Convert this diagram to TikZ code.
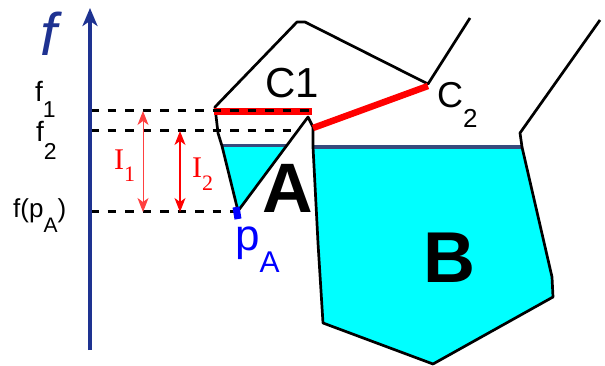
\documentclass[tikz,border=0pt]{standalone}
\usepackage{fontspec}
\setmainfont{Liberation Sans}
\newfontfamily\tnr{Liberation Serif}
\usetikzlibrary{arrows.meta}
\definecolor{axisblue}{RGB}{30,50,145}
\definecolor{slate}{RGB}{55,75,125}
\definecolor{cyanfill}{RGB}{0,255,255}
\newcommand\mysub[3]{\raisebox{-#2pt}{\fontsize{#1}{#1}\selectfont #3}}
\begin{document}
\begin{tikzpicture}[x=1pt,y=-1pt,
  lbl/.style={inner sep=0pt, anchor=base west},
  outline/.style={black, line width=2.7pt, line join=round},
  guide/.style={black, line width=3pt, dash pattern=on 8.5pt off 9pt},
  level/.style={red, line width=7pt},
  topedge/.style={slate, line width=3.2pt},
  interval/.style={red, line width=1pt, {Stealth[length=14pt,width=11pt,inset=4pt]}-{Stealth[length=14pt,width=11pt,inset=4pt]}},
]
\useasboundingbox (0,0) rectangle (605,366);
% coordinates
\coordinate (ax0) at (90,350);
\coordinate (axtop) at (90,8);
\coordinate (g1a) at (90,111);
\coordinate (g1b) at (312,111);
\coordinate (g2a) at (90,131);
\coordinate (g2b) at (295,131);
\coordinate (g3a) at (90,212);
\coordinate (g3b) at (236,212);
\coordinate (c1a) at (214,111.5);
\coordinate (c1b) at (312,111.5);
\coordinate (c2a) at (313,128);
\coordinate (c2b) at (428,86);
\coordinate (i1a) at (143,111);
\coordinate (i1b) at (143,212);
\coordinate (i2a) at (180,131);
\coordinate (i2b) at (180,212);
% fills
\fill[cyanfill] (222,146) -- (287,146) -- (238,211) -- cycle;
\fill[cyanfill] (313,147) -- (522,147) -- (552,277) -- (553,297) -- (433,364) -- (323,323) -- (318,243) -- (315,185) -- cycle;
\draw[topedge] (222,145.5) -- (287,145.5);
\draw[topedge] (314,147) -- (521,147);
% outline
\draw[outline] (600,20) -- (520,133) -- (522,147) -- (552,277) -- (553,297) -- (433,364) -- (323,323) -- (318,243) -- (315,185) -- (313,147) -- (313,127) -- (308,117) -- (238,211) -- (222,146) -- (218,133) -- (215,107) -- (297,22) -- (305,22) -- (428,84) -- (470,18);
% level sets
\draw[level] (c1a) -- (c1b);
\draw[level, line width=6.5pt] (c2a) -- (c2b);
% guides
\draw[guide] (g1a) -- (g1b);
\draw[guide] (g2a) -- (g2b);
\draw[guide] (g3a) -- (g3b);
% axis
\draw[axisblue, line width=4.3pt, -{Stealth[length=18pt,width=15pt,inset=5pt]}] (ax0) -- (axtop);
% intervals
\draw[interval, red!75] (i1a) -- (i1b);
\draw[interval, line width=1.3pt] (i2a) -- (i2b);
% point pA
\coordinate (pA) at (237,213);
\draw[blue, line width=7pt] (236,207) -- (238,219);
% labels
\node[lbl, font=\itshape\fontsize{60}{60}\selectfont, text=axisblue] (fbig) at (40,56) {f};
\node[lbl, font=\fontsize{28}{28}\selectfont] (f1) at (35,102) {f\mysub{23}{16}{1}};
\node[lbl, font=\fontsize{28}{28}\selectfont] (f2) at (36,142) {f\mysub{23}{18}{2}};
\node[lbl, font=\fontsize{26}{26}\selectfont] (fpa) at (13,218) {f(p\mysub{21}{15}{A})};
\node[lbl, font=\fontsize{42}{42}\selectfont] (c1) at (265,98) {C1};
\node[lbl, font=\fontsize{36}{36}\selectfont] (c2) at (437,108) {C\mysub{26}{20}{2}};
\node[lbl, font=\bfseries\fontsize{70}{70}\selectfont] (labA) at (262,213) {A};
\node[lbl, font=\bfseries\fontsize{72}{72}\selectfont] (labB) at (423,282) {B};
\node[lbl, font=\fontsize{44}{44}\selectfont, text=blue] (pAlbl) at (235,251) {p\mysub{30}{21}{A}};
\node[lbl, font=\tnr\fontsize{30}{30}\selectfont, text=red] (I1) at (114,170) {I\mysub{22}{12}{1}};
\node[lbl, font=\tnr\fontsize{30}{30}\selectfont, text=red] (I2) at (192,178) {I\mysub{22}{13}{2}};
\end{tikzpicture}
\end{document}
